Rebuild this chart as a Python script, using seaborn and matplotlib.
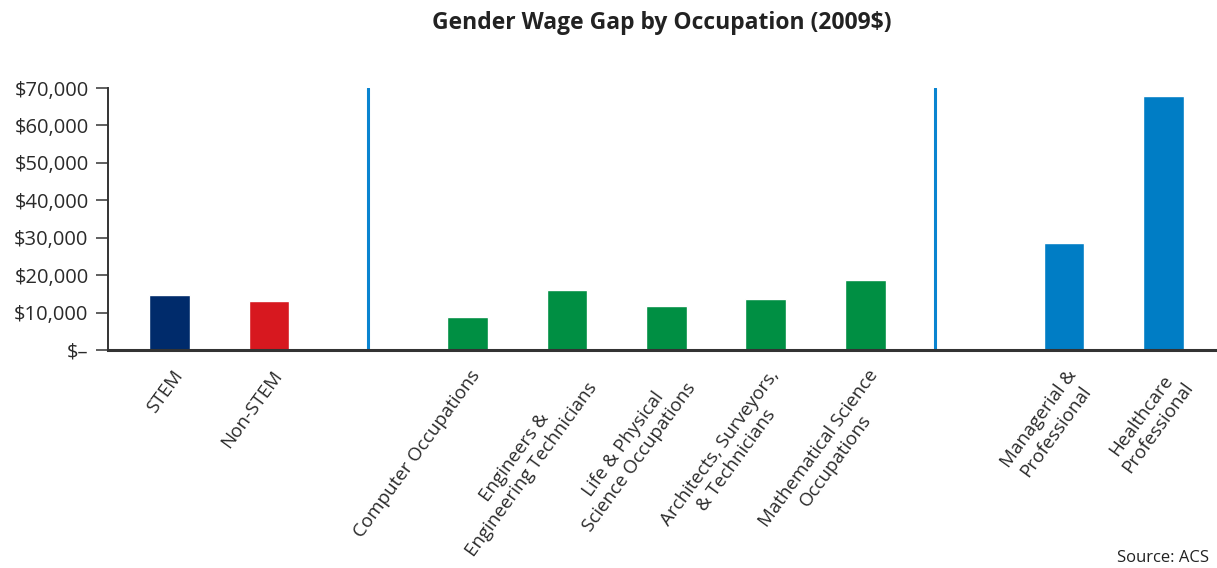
import matplotlib.pyplot as plt
import matplotlib.transforms as mtransforms
import seaborn as sns
import pandas as pd

# data
categories = ["STEM", "Non-STEM",
              "Computer Occupations", "Engineers &\nEngineering Technicians",
              "Life & Physical\nScience Occupations",
              "Architects, Surveyors,\n& Technicians",
              "Mathematical Science\nOccupations",
              "Managerial &\nProfessional", "Healthcare\nProfessional"]
wage_gap = [14700, 13100, 8900, 15900, 11700, 13500, 18700, 28600, 67900]
groups = ["STEM", "Non-STEM", "field", "field", "field", "field", "field",
          "other", "other"]
y_ticks = [0, 10000, 20000, 30000, 40000, 50000, 60000, 70000]
y_labels = ["$\u2013", "$10,000", "$20,000", "$30,000", "$40,000",
            "$50,000", "$60,000", "$70,000"]

group_colors = {"STEM": "#002b6b", "Non-STEM": "#d7181f",
                "field": "#008f43", "other": "#007dc5"}

df = pd.DataFrame({"occupation": categories, "gap": wage_gap, "group": groups})
palette = {c: group_colors[g] for c, g in zip(categories, groups)}

# blank slots hold the two separator lines
order = categories[:2] + [" "] + categories[2:7] + ["  "] + categories[7:]

sns.set_style("white")
plt.rcParams["font.family"] = ["Open Sans", "DejaVu Sans"]

fig = plt.figure(figsize=(12.17, 5.68), dpi=100)
ax = fig.add_axes([0.0887, 0.3838, 0.9113, 0.4612])

sns.barplot(data=df, x="occupation", y="gap", hue="occupation", order=order,
            palette=palette, legend=False, width=0.41, saturation=1, ax=ax)

for xpos in [2, 7.7]:
    ax.axvline(xpos, ymin=0, ymax=1, color="#0a84d0", lw=2.2)

ax.set_xlim(-0.62, 10.54)
ax.set_ylim(0, 70000)
ax.set_yticks(y_ticks)
ax.set_yticklabels(y_labels, fontsize=14.5, color="#2a2a2a")

ax.set_xticks(range(len(order)))
ax.set_xticklabels([o.strip() for o in order], rotation=54, ha="right",
                   rotation_mode="anchor", fontsize=13.5, color="#2a2a2a",
                   multialignment="center")
ax.tick_params(axis="x", which="major", length=0, pad=12)
shift = mtransforms.ScaledTranslation(0.02, 0, fig.dpi_scale_trans)
for lbl in ax.get_xticklabels():
    lbl.set_transform(lbl.get_transform() + shift)
ax.set_xticks([0.5, 1.5, 2.5, 3.5, 4.5, 5.5, 6.5, 8.4, 9.4], minor=True)
ax.tick_params(axis="x", which="minor", length=9, width=1.2, color="#444444",
               direction="out")
ax.tick_params(axis="y", length=9, width=1.2, color="#444444", left=True,
               pad=5)

ax.set_xlabel("")
ax.set_ylabel("")
for s in ["top", "right"]:
    ax.spines[s].set_visible(False)
ax.spines["left"].set_color("#333333")
ax.spines["left"].set_linewidth(1.4)
ax.spines["bottom"].set_color("#333333")
ax.spines["bottom"].set_linewidth(2.2)

fig.text(0.544, 0.96, "Gender Wage Gap by Occupation (2009$)",
         ha="center", va="center", fontsize=16.5, fontweight="bold",
         color="#222222")
fig.text(0.918, 0.003, "Source: ACS", ha="left", va="bottom", fontsize=12,
         color="#222222")

fig.savefig("out.png", dpi=100)
